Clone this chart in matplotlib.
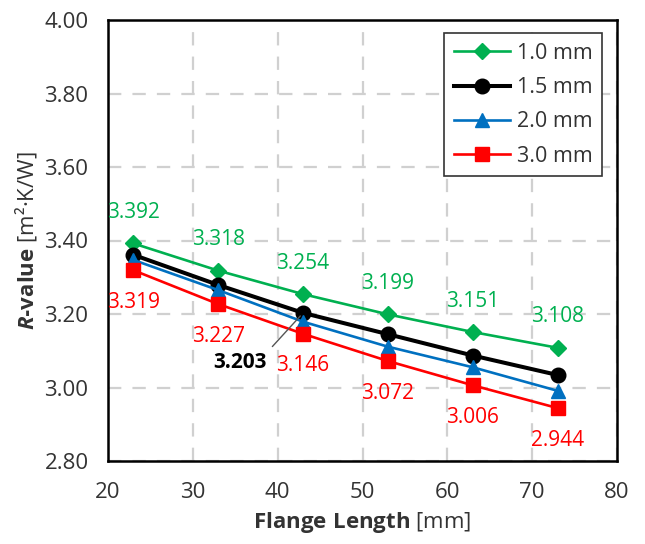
import matplotlib
matplotlib.use("Agg")
import matplotlib.pyplot as plt

plt.rcParams['font.family'] = ['Open Sans', 'DejaVu Sans']
plt.rcParams['mathtext.fontset'] = 'custom'
plt.rcParams['mathtext.rm'] = 'Open Sans'
plt.rcParams['mathtext.it'] = 'Open Sans:italic:bold'
plt.rcParams['mathtext.bf'] = 'Open Sans:bold'

flange_length = [23, 33, 43, 53, 63, 73]
series_names = ["1.0 mm", "1.5 mm", "2.0 mm", "3.0 mm"]
r_10 = [3.392, 3.318, 3.254, 3.199, 3.151, 3.108]
r_15 = [3.361, 3.279, 3.203, 3.145, 3.087, 3.034]
r_20 = [3.347, 3.265, 3.179, 3.111, 3.055, 2.991]
r_30 = [3.319, 3.227, 3.146, 3.072, 3.006, 2.944]
x_ticks = [20, 30, 40, 50, 60, 70, 80]
y_ticks = [2.80, 3.00, 3.20, 3.40, 3.60, 3.80, 4.00]

colors = ['#00b050', '#000000', '#0070c0', '#ff0000']
markers = ['D', 'o', '^', 's']
msizes = [8.5, 10.5, 10.5, 10.5]
lwidths = [1.9, 2.9, 1.9, 1.9]

fig = plt.figure(figsize=(6.45, 5.44), dpi=100)
ax = fig.add_axes([108/645, 1-461/544, (617-108)/645, (461-20)/544])

for vals, name, c, m, ms, lw in zip([r_10, r_15, r_20, r_30], series_names, colors, markers, msizes, lwidths):
    ax.plot(flange_length, vals, color=c, marker=m, markersize=ms, linewidth=lw,
            label=name, markeredgecolor=c, markerfacecolor=c)

ax.set_xlim(20, 80)
ax.set_ylim(2.80, 4.00)
ax.set_xticks(x_ticks)
ax.set_yticks(y_ticks)
ax.set_yticklabels([f"{v:.2f}" for v in y_ticks])
ax.tick_params(axis='both', length=0, labelsize=16, colors='#333333')
ax.tick_params(axis='y', pad=14)
ax.tick_params(axis='x', pad=15)
ax.grid(True, color='#d0d0d0', linestyle=(0, (6, 5)), linewidth=1.6)
ax.set_axisbelow(True)
for s in ax.spines.values():
    s.set_linewidth(1.8)
    s.set_color('black')

# data labels
for x, y in zip(flange_length, r_10):
    ax.annotate(f"{y:.3f}", (x, y), xytext=(0, 31), textcoords='offset pixels',
                ha='center', va='center', color='#00b050', fontsize=15)
for x, y in zip(flange_length, r_30):
    ax.annotate(f"{y:.3f}", (x, y), xytext=(0, -32), textcoords='offset pixels',
                ha='center', va='center', color='#ff0000', fontsize=15)
ax.annotate(f"{r_15[2]:.3f}", (flange_length[2], r_15[2]), xytext=(-63, -50),
            textcoords='offset pixels', ha='center', va='center', color='black',
            fontsize=15, fontweight='bold',
            arrowprops=dict(arrowstyle='-', color='#555555', lw=1.0,
                            shrinkA=3, shrinkB=3, relpos=(0.95, 0.85)))

leg = ax.legend(loc='upper right', bbox_to_anchor=((602-108)/509, (461-33)/441),
                borderaxespad=0, fontsize=15.5,
                frameon=True, fancybox=False, edgecolor='#333333', framealpha=1,
                handlelength=2.6, borderpad=0.45, labelspacing=0.62,
                handletextpad=0.3)
leg.get_frame().set_linewidth(1.2)
for t in leg.get_texts():
    t.set_color('#333333')

ax.set_xlabel(r"$\mathbf{Flange\ Length}$ [mm]", fontsize=16, color='#333333', labelpad=5)
ax.set_ylabel(r"$\mathit{R}\mathbf{‐value}$ [m²·K/W]", fontsize=16, color='#333333', labelpad=4)

fig.savefig("out.png", dpi=100)
